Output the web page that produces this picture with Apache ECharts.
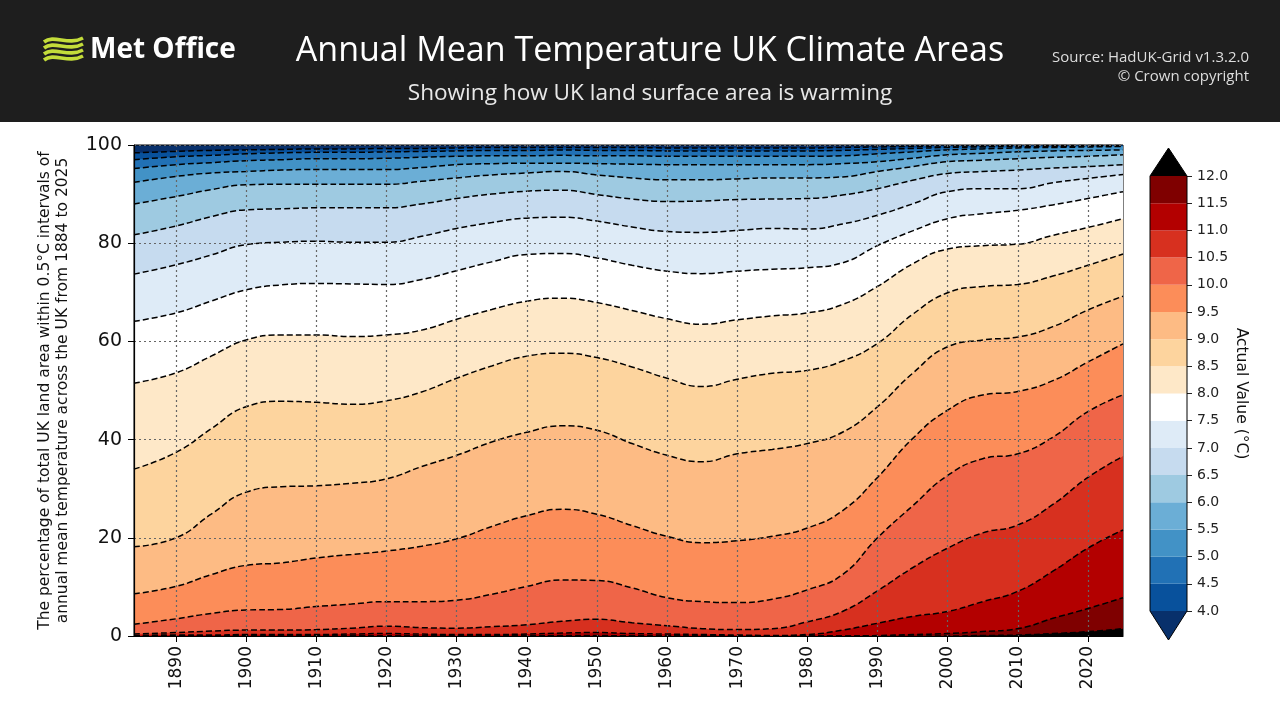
<!DOCTYPE html>
<html>
<head>
<meta charset="utf-8">
<script src="https://cdn.jsdelivr.net/npm/echarts@6.0.0/dist/echarts.min.js"></script>
<style>
  html, body { margin: 0; padding: 0; background: #fff; }
  #main { width: 1280px; height: 720px; }
</style>
</head>
<body>
<div id="main"></div>
<script>
// sample years (x)
const years = [1884, 1890, 1895, 1900, 1905, 1910, 1915, 1920, 1925, 1930, 1935, 1940, 1945, 1950,
  1955, 1960, 1965, 1970, 1975, 1980, 1985, 1990, 1995, 2000, 2005, 2010, 2015, 2020, 2025];

// % of UK land area warmer than each threshold (°C)
const above40 = [98.4, 98.7, 98.9, 99.0, 99.1, 99.2, 99.2, 99.3, 99.3, 99.4, 99.5, 99.5, 99.5, 99.5, 99.5, 99.4, 99.4, 99.4, 99.4, 99.4, 99.5, 99.6, 99.7, 99.8, 99.8, 99.9, 99.9, 99.9, 99.9];
const above45 = [97.0, 97.6, 97.9, 98.2, 98.4, 98.5, 98.5, 98.6, 98.7, 98.8, 98.9, 98.9, 99.0, 98.9, 98.9, 98.8, 98.8, 98.8, 98.8, 98.8, 98.9, 99.1, 99.3, 99.5, 99.6, 99.7, 99.7, 99.8, 99.8];
const above50 = [95.2, 96.0, 96.4, 96.8, 97.0, 97.2, 97.2, 97.3, 97.5, 97.7, 97.8, 97.8, 97.9, 97.8, 97.8, 97.7, 97.7, 97.7, 97.7, 97.7, 97.8, 98.2, 98.6, 99.0, 99.2, 99.4, 99.5, 99.6, 99.7];
const above55 = [92.4, 93.6, 94.3, 94.6, 94.9, 95.0, 95.0, 95.0, 95.4, 96.0, 96.2, 96.3, 96.3, 96.2, 96.1, 96.0, 96.0, 96.0, 96.0, 96.0, 96.2, 96.6, 97.3, 98.0, 98.3, 98.6, 98.8, 98.9, 99.0];
const above60 = [88.0, 89.5, 90.9, 91.9, 92.0, 92.0, 92.0, 92.0, 92.6, 93.3, 93.9, 94.3, 94.6, 93.9, 93.3, 92.9, 92.9, 93.1, 93.3, 93.3, 93.5, 94.6, 95.6, 96.6, 96.9, 97.2, 97.5, 97.7, 98.0];
const above65 = [81.7, 83.5, 85.4, 86.8, 87.0, 87.2, 87.2, 87.2, 88.0, 89.1, 90.0, 90.6, 90.8, 89.9, 89.0, 88.5, 88.6, 88.9, 89.0, 89.1, 89.8, 91.1, 92.8, 94.2, 94.6, 94.9, 95.3, 95.6, 96.0];
const above70 = [73.7, 75.6, 77.6, 79.7, 80.2, 80.4, 80.2, 80.2, 81.4, 83.0, 84.2, 85.1, 85.3, 84.5, 83.3, 82.4, 82.2, 82.6, 83.0, 82.9, 83.9, 85.7, 88.0, 90.5, 91.1, 91.1, 92.3, 93.2, 94.0];
const above75 = [64.1, 65.8, 68.2, 70.5, 71.5, 71.8, 71.7, 71.6, 72.6, 74.4, 76.2, 77.7, 77.9, 77.0, 75.5, 74.3, 73.8, 74.3, 74.7, 75.0, 76.0, 79.5, 82.5, 85.0, 86.0, 86.7, 87.8, 89.1, 90.5];
const above80 = [51.5, 53.6, 57.0, 60.3, 61.3, 61.3, 61.0, 61.3, 62.3, 64.5, 66.5, 68.2, 68.8, 67.9, 66.3, 64.6, 63.5, 64.4, 65.2, 65.8, 67.5, 71.2, 75.8, 78.8, 79.5, 79.8, 81.6, 83.2, 85.0];
const above85 = [34.0, 37.4, 42.2, 46.7, 47.8, 47.6, 47.2, 47.9, 49.7, 52.5, 55.0, 57.0, 57.6, 56.7, 54.8, 52.5, 50.8, 52.3, 53.5, 54.1, 56.0, 59.6, 65.5, 69.9, 71.2, 71.6, 73.3, 75.5, 77.8];
const above90 = [18.2, 20.0, 24.8, 29.3, 30.4, 30.6, 31.1, 32.0, 34.5, 36.8, 39.5, 41.5, 42.8, 41.9, 39.2, 36.8, 35.5, 37.1, 38.0, 39.2, 41.5, 46.7, 53.5, 58.9, 60.3, 60.9, 63.0, 66.4, 69.2];
const above95 = [8.6, 10.1, 12.5, 14.4, 14.9, 15.9, 16.6, 17.3, 18.3, 19.8, 22.3, 24.5, 25.8, 24.8, 22.5, 20.3, 19.0, 19.4, 20.3, 22.0, 25.5, 32.3, 40.2, 46.0, 49.1, 49.8, 52.0, 55.8, 59.5];
const above100 = [2.4, 3.5, 4.6, 5.3, 5.4, 6.0, 6.5, 7.0, 7.0, 7.3, 8.5, 10.1, 11.4, 11.3, 9.8, 7.8, 7.0, 6.8, 7.5, 9.4, 12.5, 20.0, 26.5, 32.7, 36.1, 37.1, 40.5, 45.7, 49.1];
const above105 = [0.4, 0.7, 1.0, 1.2, 1.2, 1.3, 1.6, 2.0, 1.7, 1.6, 1.9, 2.3, 3.0, 3.4, 2.7, 2.1, 1.5, 1.3, 1.5, 2.9, 5.0, 9.2, 13.9, 17.9, 21.0, 22.6, 26.8, 32.3, 36.6];
const above110 = [0.1, 0.2, 0.2, 0.3, 0.3, 0.3, 0.4, 0.5, 0.4, 0.3, 0.3, 0.4, 0.6, 0.7, 0.5, 0.4, 0.3, 0.2, 0.1, 0.3, 1.2, 2.6, 4.0, 5.0, 7.0, 9.1, 13.2, 17.9, 21.6];
const above115 = [0, 0, 0, 0, 0, 0, 0, 0, 0, 0, 0, 0, 0.1, 0.1, 0, 0, 0, 0, 0, 0, 0, 0.1, 0.3, 0.5, 0.9, 1.5, 3.6, 5.6, 7.8];
const above120 = [0, 0, 0, 0, 0, 0, 0, 0, 0, 0, 0, 0, 0, 0, 0, 0, 0, 0, 0, 0, 0, 0, 0, 0, 0.1, 0.2, 0.5, 0.9, 1.5];

const levels = [4.0, 4.5, 5.0, 5.5, 6.0, 6.5, 7.0, 7.5, 8.0, 8.5, 9.0, 9.5, 10.0, 10.5, 11.0, 11.5, 12.0];
const decades = [1890, 1900, 1910, 1920, 1930, 1940, 1950, 1960, 1970, 1980, 1990, 2000, 2010, 2020];

const lines = [above40, above45, above50, above55, above60, above65, above70, above75,
  above80, above85, above90, above95, above100, above105, above110, above115, above120];

// colour of the band just above each level (last one = above 12)
const fills = ['#08519c', '#2171b5', '#4292c6', '#6baed6', '#9ecae1', '#c6dbef', '#deebf7', '#ffffff',
  '#fee8c8', '#fdd49e', '#fdbb84', '#fc8d59', '#ef6548', '#d7301f', '#b30000', '#7f0000', '#000000'];
const coldest = '#08306b';

const chart = echarts.init(document.getElementById('main'));
const tickFont = 'DejaVu Sans';

const series = lines.map((vals, i) => ({
  name: levels[i].toFixed(1),
  type: 'line',
  xAxisIndex: 0,
  yAxisIndex: 0,
  data: years.map((y, j) => [y, vals[j]]),
  smooth: 0.5,
  symbol: 'none',
  lineStyle: { color: '#000', width: 1.5, type: [6, 3] },
  areaStyle: { color: fills[i], opacity: 1, origin: 'start' },
  z: 2
}));

// colour bar pieces
series.push({
  type: 'custom',
  xAxisIndex: 1,
  yAxisIndex: 1,
  data: levels.slice(0, -1).map((lv, i) => [0, lv, levels[i + 1], i]),
  encode: { x: 0, y: [1, 2] },
  renderItem: function (params, api) {
    const lo = api.coord([0, api.value(1)]);
    const hi = api.coord([0, api.value(2)]);
    const w = api.size([1, 0])[0];
    return {
      type: 'rect',
      shape: { x: lo[0] - w / 2, y: hi[1], width: w, height: lo[1] - hi[1] },
      style: { fill: fills[api.value(3)], stroke: null }
    };
  }
});

const cbL = 1150, cbR = 1187, cbT = 176, cbB = 611, cbMid = (cbL + cbR) / 2;

const wave = (y) => ({
  type: 'bezierCurve',
  shape: { x1: 44, y1: y + 2, cpx1: 54, cpy1: y - 6, cpx2: 68, cpy2: y + 6, x2: 83, y2: y - 2 },
  style: { stroke: '#c3dc3a', lineWidth: 3.6, fill: null }
});

const option = {
  animation: false,
  backgroundColor: '#ffffff',
  grid: [
    { left: 134, right: 157, top: 145, bottom: 84, show: true, backgroundColor: coldest, borderColor: '#000', borderWidth: 1 },
    { left: cbL, top: cbT, width: cbR - cbL, height: cbB - cbT }
  ],
  xAxis: [
    {
      type: 'value', gridIndex: 0, min: 1884, max: 2025, splitNumber: 14, z: 5,
      axisLine: { show: true, onZero: false, lineStyle: { color: '#000', width: 1.2 } },
      axisTick: { show: true, length: 6, customValues: decades, lineStyle: { color: '#000' } },
      axisLabel: {
        customValues: decades, rotate: 90, margin: 10, fontSize: 17, color: '#111', fontFamily: tickFont,
        formatter: (v) => String(v)
      },
      splitLine: { show: true, lineStyle: { color: '#666', type: [2, 3], width: 1.2 } }
    },
    { type: 'category', gridIndex: 1, data: ['bar'], show: false }
  ],
  yAxis: [
    {
      type: 'value', gridIndex: 0, min: 0, max: 100, interval: 20, z: 5,
      axisLine: { show: true, lineStyle: { color: '#000', width: 1.2 } },
      axisTick: { show: true, length: 6, lineStyle: { color: '#000' } },
      axisLabel: { fontSize: 19, color: '#111', margin: 12, fontFamily: tickFont },
      splitLine: { show: true, lineStyle: { color: '#666', type: [2, 3], width: 1.2 } },
      name: 'The percentage of total UK land area within 0.5°C intervals of\nannual mean temperature across the UK from 1884 to 2025',
      nameLocation: 'middle', nameRotate: 90, nameGap: 62,
      nameTextStyle: { fontSize: 15.5, lineHeight: 18, color: '#111', fontFamily: tickFont }
    },
    {
      type: 'value', gridIndex: 1, min: 4, max: 12, interval: 0.5, position: 'right',
      axisLine: { show: false },
      axisTick: { show: true, length: 5, lineStyle: { color: '#222' } },
      axisLabel: { fontSize: 14, color: '#222', margin: 10, fontFamily: tickFont, formatter: (v) => v.toFixed(1) },
      splitLine: { show: false },
      name: 'Actual Value (°C)', nameLocation: 'middle', nameRotate: -90, nameGap: 46,
      nameTextStyle: { fontSize: 15.5, color: '#111', fontFamily: tickFont }
    }
  ],
  series: series,
  graphic: [
    { type: 'rect', shape: { x: 0, y: 0, width: 1280, height: 122 }, style: { fill: '#1e1e1e' }, z: -10 },
    wave(40), wave(46), wave(52), wave(58),
    { type: 'text', x: 90, y: 50, style: { text: 'Met Office', fill: '#fff', font: 'bold 28px "Open Sans"', textVerticalAlign: 'middle' } },
    { type: 'text', x: 650, y: 51, style: { text: 'Annual Mean Temperature UK Climate Areas', fill: '#fff', font: '34px "Open Sans"', textAlign: 'center', textVerticalAlign: 'middle' } },
    { type: 'text', x: 650, y: 94, style: { text: 'Showing how UK land surface area is warming', fill: '#e8e8e8', font: '22.6px "Open Sans"', textAlign: 'center', textVerticalAlign: 'middle' } },
    { type: 'text', x: 1249, y: 58, style: { text: 'Source: HadUK-Grid v1.3.2.0', fill: '#dddddd', font: '15px "Open Sans"', textAlign: 'right', textVerticalAlign: 'middle' } },
    { type: 'text', x: 1249, y: 77, style: { text: '© Crown copyright', fill: '#dddddd', font: '15px "Open Sans"', textAlign: 'right', textVerticalAlign: 'middle' } },
    { type: 'polygon', shape: { points: [[cbL, cbT], [cbR, cbT], [cbMid, cbT - 28]] }, style: { fill: '#000' } },
    { type: 'polygon', shape: { points: [[cbL, cbB], [cbR, cbB], [cbMid, cbB + 29]] }, style: { fill: coldest } },
    { type: 'polygon', shape: { points: [[cbL, cbT], [cbMid, cbT - 28], [cbR, cbT], [cbR, cbB], [cbMid, cbB + 29], [cbL, cbB]] },
      style: { fill: null, stroke: '#000', lineWidth: 1 }, z: 10 }
  ]
};

chart.setOption(option);
</script>
</body>
</html>
